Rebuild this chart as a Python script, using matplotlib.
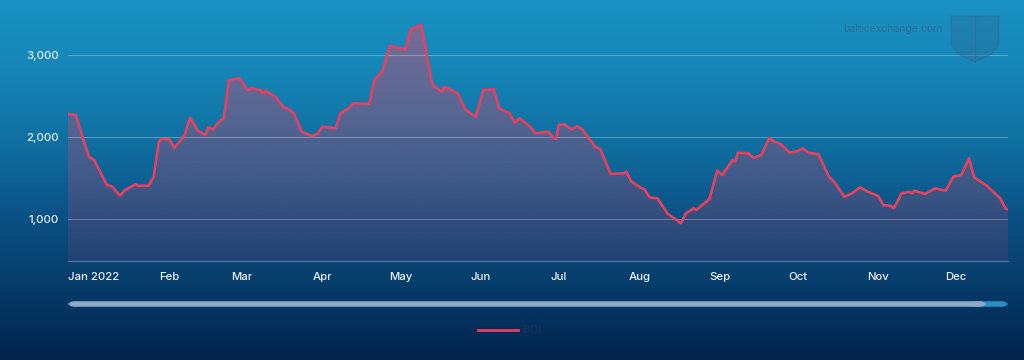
import matplotlib
matplotlib.use("Agg")
import matplotlib.pyplot as plt
import matplotlib.dates as mdates
import matplotlib.transforms as mtrans
from matplotlib.patches import FancyBboxPatch, Polygon
from matplotlib.colors import LinearSegmentedColormap
import numpy as np
import pandas as pd

# ---- data ----
dates = [
    "2021-12-24", "2021-12-27", "2022-01-01", "2022-01-03", "2022-01-08", "2022-01-10",
    "2022-01-13", "2022-01-15", "2022-01-19", "2022-01-20", "2022-01-24", "2022-01-26",
    "2022-01-28", "2022-01-29", "2022-02-01", "2022-02-03", "2022-02-05", "2022-02-07",
    "2022-02-09", "2022-02-12", "2022-02-15", "2022-02-16", "2022-02-18", "2022-02-19",
    "2022-02-21", "2022-02-22", "2022-02-24", "2022-02-28", "2022-03-01", "2022-03-03",
    "2022-03-05", "2022-03-08", "2022-03-09", "2022-03-10", "2022-03-14", "2022-03-17",
    "2022-03-19", "2022-03-21", "2022-03-24", "2022-03-26", "2022-03-28", "2022-03-30",
    "2022-04-01", "2022-04-06", "2022-04-08", "2022-04-11", "2022-04-13", "2022-04-19",
    "2022-04-21", "2022-04-24", "2022-04-27", "2022-05-03", "2022-05-05", "2022-05-09",
    "2022-05-10", "2022-05-13", "2022-05-14", "2022-05-17", "2022-05-18", "2022-05-23",
    "2022-05-26", "2022-05-28", "2022-05-30", "2022-06-02", "2022-06-06", "2022-06-08",
    "2022-06-12", "2022-06-14", "2022-06-16", "2022-06-18", "2022-06-20", "2022-06-22",
    "2022-06-27", "2022-06-29", "2022-06-30", "2022-07-01", "2022-07-03", "2022-07-06",
    "2022-07-08", "2022-07-10", "2022-07-15", "2022-07-17", "2022-07-21", "2022-07-26",
    "2022-07-27", "2022-07-29", "2022-08-02", "2022-08-03", "2022-08-05", "2022-08-08",
    "2022-08-12", "2022-08-15", "2022-08-17", "2022-08-19", "2022-08-22", "2022-08-23",
    "2022-08-26", "2022-08-28", "2022-08-31", "2022-09-02", "2022-09-06", "2022-09-07",
    "2022-09-08", "2022-09-12", "2022-09-14", "2022-09-17", "2022-09-20", "2022-09-22",
    "2022-09-24", "2022-09-28", "2022-10-01", "2022-10-03", "2022-10-05", "2022-10-09",
    "2022-10-13", "2022-10-15", "2022-10-19", "2022-10-22", "2022-10-25", "2022-10-28",
    "2022-11-01", "2022-11-03", "2022-11-06", "2022-11-07", "2022-11-10", "2022-11-13",
    "2022-11-14", "2022-11-15", "2022-11-19", "2022-11-23", "2022-11-27", "2022-11-30",
    "2022-12-03", "2022-12-06", "2022-12-08", "2022-12-13", "2022-12-18", "2022-12-20",
    "2022-12-21",
]
bdi = [
    2280, 2268, 1760, 1720, 1415, 1395,
    1285, 1354, 1423, 1406, 1406, 1516,
    1943, 1976, 1972, 1870, 1943, 2033,
    2235, 2077, 2024, 2118, 2093, 2146,
    2207, 2228, 2695, 2716, 2675, 2573,
    2594, 2573, 2533, 2565, 2484, 2362,
    2338, 2289, 2065, 2037, 2012, 2037,
    2126, 2106, 2289, 2350, 2411, 2402,
    2695, 2797, 3110, 3069, 3313, 3366,
    3204, 2675, 2622, 2553, 2613, 2533,
    2338, 2289, 2248, 2573, 2581, 2350,
    2289, 2175, 2228, 2175, 2126, 2045,
    2065, 1984, 1984, 2146, 2154, 2093,
    2134, 2093, 1882, 1850, 1549, 1557,
    1577, 1455, 1374, 1362, 1264, 1252,
    1061, 996, 948, 1070, 1130, 1110,
    1191, 1240, 1589, 1537, 1720, 1699,
    1809, 1801, 1748, 1780, 1984, 1943,
    1923, 1809, 1829, 1862, 1809, 1789,
    1516, 1455, 1272, 1313, 1386, 1333,
    1280, 1171, 1159, 1130, 1313, 1333,
    1313, 1345, 1305, 1374, 1345, 1516,
    1537, 1740, 1508, 1402, 1252, 1130,
    1118,
]
yticks = [1000, 2000, 3000]
series_name = "BDI"
watermark = "balticexchange.com"

# ---- styles ----
LINE = "#e8405f"
W, H = 1024, 360
plt.rcParams["font.family"] = ["Inter", "DejaVu Sans"]

fig = plt.figure(figsize=(W / 100, H / 100), dpi=100)

# background gradient
bg = fig.add_axes([0, 0, 1, 1], zorder=-10)
bg.set_axis_off()
cmap_bg = LinearSegmentedColormap.from_list(
    "bg",
    [(0.0, "#1a92c3"), (0.18, "#1687b8"), (0.42, "#0f6c9e"),
     (0.62, "#0a4f82"), (0.75, "#07416f"), (0.88, "#04325f"), (1.0, "#02244d")],
)
grad = np.linspace(0, 1, 400).reshape(-1, 1)
bg.imshow(grad, aspect="auto", cmap=cmap_bg, extent=[0, 1, 1, 0])
bg.set_xlim(0, 1)
bg.set_ylim(1, 0)

# main axes
left, right, top, bottom = 68, 1008, 10, 261
ax = fig.add_axes([left / W, (H - bottom) / H, (right - left) / W, (bottom - top) / H])
ax.set_facecolor("none")

x = pd.to_datetime(dates)
xn = mdates.date2num(x)
y = np.array(bdi, dtype=float)

# y-scale: 1000-units map to 82 px, gridline 2000 at px 137
ppu = 82 / 1000.0
ymin = 2000 - (bottom - 137) / ppu
ymax = 2000 + (137 - top) / ppu

# gradient-filled area
poly = ax.fill_between(xn, y, ymin, facecolor="none", edgecolor="none")
alpha_col = np.linspace(0.48, 0.12, 300)
rgba = np.zeros((300, 1, 4))
rgba[:, 0, 0] = 228 / 255
rgba[:, 0, 1] = 66 / 255
rgba[:, 0, 2] = 100 / 255
rgba[:, 0, 3] = alpha_col
im = ax.imshow(rgba, aspect="auto", extent=[xn[0], xn[-1], ymin, ymax], origin="upper",
               zorder=1, interpolation="bilinear")
im.set_clip_path(poly.get_paths()[0], transform=ax.transData)
ax.set_xlim(xn[0], xn[-1])
ax.set_ylim(ymin, ymax)

ax.plot(xn, y, color=LINE, lw=1.9, zorder=3, solid_joinstyle="round")

# grid & spines
ax.set_yticks(yticks)
ax.yaxis.set_major_formatter(plt.FuncFormatter(lambda v, p: f"{int(v):,}"))
ax.grid(axis="y", color="white", alpha=0.28, lw=0.8, zorder=0)
ax.grid(axis="x", visible=False)
for s in ["top", "right", "left"]:
    ax.spines[s].set_visible(False)
ax.spines["bottom"].set_color("#4a7aa5")
ax.spines["bottom"].set_linewidth(0.9)
ax.tick_params(axis="both", length=0, colors="#e9f0f6", labelsize=8.2)
ax.tick_params(axis="y", pad=6.5)
ax.tick_params(axis="x", pad=8)

ax.xaxis.set_major_locator(mdates.MonthLocator())
ax.xaxis.set_major_formatter(
    plt.FuncFormatter(lambda v, p: mdates.num2date(v).strftime("%b %Y")
                      if mdates.num2date(v).month == 1 else mdates.num2date(v).strftime("%b")))
fig.canvas.draw()
for lab in ax.get_xticklabels() + ax.get_yticklabels():
    lab.set_fontweight("medium")
for lab in ax.get_xticklabels():
    if "2022" in lab.get_text():
        lab.set_transform(lab.get_transform() +
                          mtrans.ScaledTranslation(5 / 100, 0, fig.dpi_scale_trans))

# scrollbar
def px_box(x0, x1, yc, h, color):
    p = FancyBboxPatch((x0 / W, (H - yc - h / 2) / H), (x1 - x0) / W, h / H,
                       boxstyle="round,pad=0,rounding_size=0.006",
                       transform=fig.transFigure, facecolor=color, edgecolor="none",
                       mutation_aspect=W / H)
    fig.add_artist(p)

px_box(968, 1008, 304, 5.5, "#2c8ec3")
px_box(68, 986, 304, 5.5, "#8eaac6")

# legend
fig.add_artist(plt.Line2D([478 / W, 518 / W], [(H - 330) / H] * 2, color=LINE, lw=2,
                          transform=fig.transFigure))
fig.text(523 / W, (H - 330) / H, series_name, color="#1a3355", fontsize=8,
         va="center", ha="left")

# watermark
fig.text(942 / W, (H - 29) / H, watermark, color="#2c6c95", fontsize=7.5,
         va="center", ha="right")
shield = [(951, 16), (999, 16), (999, 44), (992, 54), (975, 62), (958, 54), (951, 44)]
fig.add_artist(Polygon([(px / W, (H - py) / H) for px, py in shield], closed=True,
                       transform=fig.transFigure, facecolor="#2a6f9a", edgecolor="#2a6a95",
                       alpha=0.45, lw=0.8))
fig.add_artist(plt.Line2D([975 / W, 975 / W], [(H - 16) / H, (H - 62) / H],
                          color="#2a6a95", alpha=0.6, lw=0.8, transform=fig.transFigure))

fig.savefig("out.png", dpi=100)
